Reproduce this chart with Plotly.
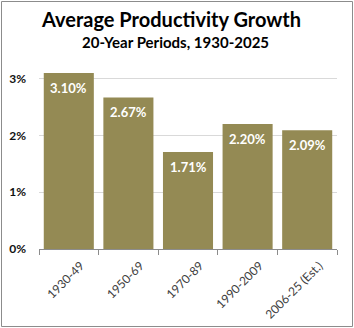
import plotly.graph_objects as go

categories = ["1930-49", "1950-69", "1970-89", "1990-2009", "2006-25 (Est.)"]
values = [3.10, 2.67, 1.71, 2.20, 2.09]
y_ticks = [0, 1, 2, 3]
y_tick_labels = ["0%", "1%", "2%", "3%"]
title_text = "Average Productivity Growth"
subtitle_text = "20-Year Periods, 1930-2025"

W, H = 354, 328
L, R, T, B = 39, 17, 73, 79
pw, ph = W - L - R, H - T - B
FONT = "Lato, 'Open Sans', sans-serif"

def px_x(p):
    return (p - L) / pw

def px_y(p):
    return (H - B - p) / ph

fig = go.Figure()
fig.add_trace(go.Bar(
    x=categories, y=values,
    marker=dict(color="#948A54", line=dict(width=0)),
    hoverinfo="skip",
))

for c, v in zip(categories, values):
    fig.add_annotation(x=c, y=v, text=f"{v:.2f}%", showarrow=False,
                       yanchor="middle", yshift=-15,
                       font=dict(family=FONT, size=13, color="white", weight="bold"))

fig.add_annotation(xref="paper", yref="paper", x=px_x(171), y=px_y(19),
                   text=f"<b>{title_text}</b>", showarrow=False,
                   xanchor="center", yanchor="middle",
                   font=dict(family=FONT, size=20, color="black"))
fig.add_annotation(xref="paper", yref="paper", x=px_x(175), y=px_y(42),
                   text=f"<b>{subtitle_text}</b>", showarrow=False,
                   xanchor="center", yanchor="middle",
                   font=dict(family=FONT, size=15, color="black"))

fig.add_shape(type="rect", xref="paper", yref="paper",
              x0=px_x(1.5), x1=px_x(352.5), y0=px_y(326.5), y1=px_y(1.5),
              line=dict(color="#8c8c8c", width=1), fillcolor="rgba(0,0,0,0)", layer="above")

fig.update_layout(
    width=W, height=H,
    margin=dict(l=L, r=R, t=T, b=B, pad=0, autoexpand=False),
    paper_bgcolor="white", plot_bgcolor="white",
    bargap=0.16,
    showlegend=False,
    font=dict(family=FONT),
)
fig.update_yaxes(
    range=[0, 3.1], tickvals=y_ticks, ticktext=[f"<b>{t}</b>" for t in y_tick_labels],
    showgrid=True, gridcolor="#d9d9d9", gridwidth=1, automargin=False,
    zeroline=False, showline=False, ticks="", ticklabelstandoff=12,
    tickfont=dict(size=12, color="#111111"),
)
fig.update_xaxes(
    type="category", tickangle=-45, tickson="boundaries", ticks="outside",
    ticklen=5, tickcolor="#8c8c8c", showline=True, linecolor="#8c8c8c", linewidth=1,
    ticklabelshift=12, ticklabelstandoff=4, automargin=False,
    showgrid=False, tickfont=dict(size=12, color="#404040"),
)
fig.write_html("out.html")
